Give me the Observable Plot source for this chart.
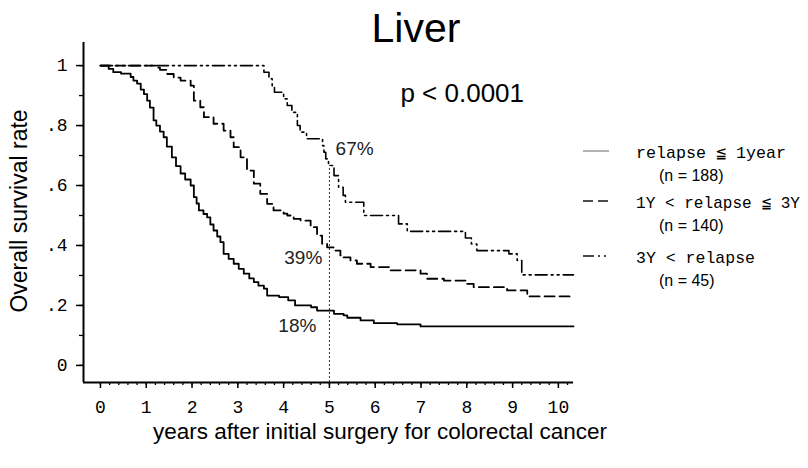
<!DOCTYPE html>
<html><head><meta charset="utf-8">
<script src="https://cdn.jsdelivr.net/npm/d3@7"></script>
<script src="https://cdn.jsdelivr.net/npm/@observablehq/plot@0.6"></script>
<style>body{margin:0;background:#fff}#chart svg{display:block}</style>
</head><body><div id="chart"></div>
<script>
// Kaplan–Meier step points (years, survival)
const early_t = [0,0.18,0.28,0.45,0.66,0.72,0.8,0.88,0.95,1.02,1.08,1.16,1.22,1.3,1.38,1.45,1.56,1.65,1.75,1.85,1.97,2.04,2.1,2.15,2.25,2.33,2.4,2.47,2.55,2.62,2.69,2.8,2.91,3.02,3.13,3.25,3.35,3.45,3.57,3.64,3.9,4.1,4.25,4.6,4.73,5.1,5.31,5.39,5.68,5.97,6.48,6.99,10.33];
const early_s = [1,0.989,0.978,0.973,0.962,0.95,0.94,0.92,0.905,0.883,0.86,0.817,0.8,0.78,0.761,0.73,0.694,0.665,0.64,0.62,0.6,0.561,0.54,0.517,0.505,0.494,0.47,0.45,0.43,0.411,0.372,0.355,0.339,0.322,0.306,0.29,0.278,0.266,0.256,0.233,0.228,0.217,0.2,0.194,0.183,0.172,0.167,0.159,0.15,0.141,0.137,0.13,0.13];
const mid_t = [0,1.2,1.3,1.46,1.6,1.75,1.97,2.04,2.18,2.26,2.47,2.69,2.84,2.91,3.06,3.2,3.35,3.49,3.64,3.78,4.0,4.08,4.22,4.37,4.59,4.73,4.84,4.95,5.09,5.24,5.31,5.46,5.6,5.9,6.33,6.99,7.13,7.5,8.0,8.15,8.88,9.32,10.33];
const mid_s = [1,0.993,0.986,0.972,0.96,0.95,0.933,0.883,0.861,0.828,0.806,0.783,0.761,0.728,0.694,0.65,0.606,0.572,0.539,0.517,0.506,0.5,0.489,0.483,0.461,0.433,0.406,0.394,0.383,0.367,0.36,0.35,0.339,0.328,0.317,0.306,0.289,0.283,0.272,0.261,0.25,0.23,0.23];
const late_t = [0,3.57,3.68,3.75,3.8,4.0,4.08,4.18,4.3,4.36,4.5,4.85,4.88,4.92,4.98,5.1,5.2,5.3,5.35,5.75,6.51,6.7,7.97,8.1,8.22,8.92,9.1,9.2,10.33];
const late_s = [1,0.978,0.956,0.933,0.911,0.889,0.867,0.844,0.8,0.778,0.756,0.733,0.711,0.689,0.667,0.633,0.594,0.567,0.544,0.5,0.472,0.447,0.425,0.405,0.383,0.372,0.35,0.302,0.302];

const groupNames = ["relapse ≦ 1year","1Y < relapse ≦ 3Y","3Y < relapse"];
const groupN = ["(n = 188)","(n = 140)","(n = 45)"];
const xTicks = [0,1,2,3,4,5,6,7,8,9,10];
const yTicks = [0,0.2,0.4,0.6,0.8,1];
const landmarkYear = 5;
const landmarkLabels = ["18%","39%","67%"];
const landmarkVals = [0.183,0.394,0.667];

const toRows = (ts, ss, g) => ts.map((t, i) => ({t, s: ss[i], g}));
const early = toRows(early_t, early_s, groupNames[0]);
const mid = toRows(mid_t, mid_s, groupNames[1]);
const late = toRows(late_t, late_s, groupNames[2]);

const xMinor = d3.range(0, 10.3, 0.2);
const yMinor = d3.range(0, 1.01, 0.1);

const ann = [
  {t: 4.3, s: 0.133, label: landmarkLabels[0]},
  {t: 4.43, s: 0.357, label: landmarkLabels[1]},
  {t: 5.55, s: 0.723, label: landmarkLabels[2]}
];
const pval = [{t: 7.9, s: 0.905, label: "p < 0.0001"}];

const mono = "'Liberation Mono', 'DejaVu Sans Mono', 'Noto Sans CJK JP', monospace";
const sans = "'Liberation Sans', Arial, sans-serif";

const chart = Plot.plot({
  width: 808, height: 468,
  marginLeft: 83, marginRight: 235, marginTop: 42, marginBottom: 86,
  x: {domain: [-0.37, 10.33], label: null},
  y: {domain: [-0.057, 1.077], label: null},
  style: {fontFamily: sans, background: "white", color: "black"},
  marks: [
    Plot.axisX(xMinor, {tickSize: 3, tickFormat: () => "", label: null, strokeWidth: 1.3}),
    Plot.axisX(xTicks, {tickSize: 6, tickPadding: 12, fontSize: 18, fontFamily: mono, label: null, strokeWidth: 1.5}),
    Plot.axisY(yMinor, {tickSize: 4, tickFormat: () => "", label: null, strokeWidth: 1.3}),
    Plot.axisY(yTicks, {tickSize: 7, tickPadding: 9, fontSize: 18, fontFamily: mono, label: null, strokeWidth: 1.5,
      tickFormat: d => d === 0 ? "0" : d === 1 ? "1" : "." + Math.round(d * 10)}),
    Plot.ruleX([-0.37], {strokeWidth: 2}),
    Plot.ruleY([-0.057], {strokeWidth: 2}),
    Plot.ruleX([landmarkYear], {y1: -0.057, y2: landmarkVals[2], strokeDasharray: "2,2", strokeWidth: 1, stroke: "#333"}),
    Plot.line(early, {x: "t", y: "s", curve: "step-after", stroke: "black", strokeWidth: 1.8}),
    Plot.line(mid, {x: "t", y: "s", curve: "step-after", stroke: "black", strokeWidth: 1.8, strokeDasharray: "10,5"}),
    Plot.line(late, {x: "t", y: "s", curve: "step-after", stroke: "black", strokeWidth: 1.6, strokeDasharray: "12,4,2,4,2,4"}),
    Plot.text(ann, {x: "t", y: "s", text: "label", fontSize: 19, fill: "#222"}),
    Plot.text(pval, {x: "t", y: "s", text: "label", fontSize: 26, fill: "black"})
  ]
});
document.getElementById("chart").appendChild(chart);

const svg = d3.select(chart);
// Title and axis titles
svg.append("text").attr("x", 416).attr("y", 42).attr("text-anchor", "middle")
  .attr("font-family", sans).attr("font-size", 41).text("Liver");
svg.append("text").attr("transform", "translate(27,211) rotate(-90)").attr("text-anchor", "middle")
  .attr("font-family", sans).attr("font-size", 23).text("Overall survival rate");
svg.append("text").attr("x", 380).attr("y", 439).attr("text-anchor", "middle")
  .attr("font-family", sans).attr("font-size", 22.5).text("years after initial surgery for colorectal cancer");

// Legend
const dashes = [null, "10,5", "11,4,2,4,2,4"];
const legY = [151, 201, 256];
const legW = [150, 164, 119];
const leg = svg.append("g").attr("text-anchor", "start");
groupNames.forEach((name, i) => {
  leg.append("line").attr("x1", 583).attr("x2", 609).attr("y1", legY[i]).attr("y2", legY[i])
    .attr("stroke", i === 0 ? "#666" : "#111").attr("stroke-width", i === 0 ? 1 : 1.6)
    .attr("stroke-dasharray", dashes[i]);
  leg.append("text").attr("x", 636).attr("y", legY[i] + 7).attr("font-family", mono)
    .attr("font-size", 17).attr("textLength", legW[i]).attr("lengthAdjust", "spacingAndGlyphs").text(name);
  leg.append("text").attr("x", 659).attr("y", legY[i] + 30).attr("font-family", sans)
    .attr("font-size", 16).text(groupN[i]);
});
</script></body></html>
